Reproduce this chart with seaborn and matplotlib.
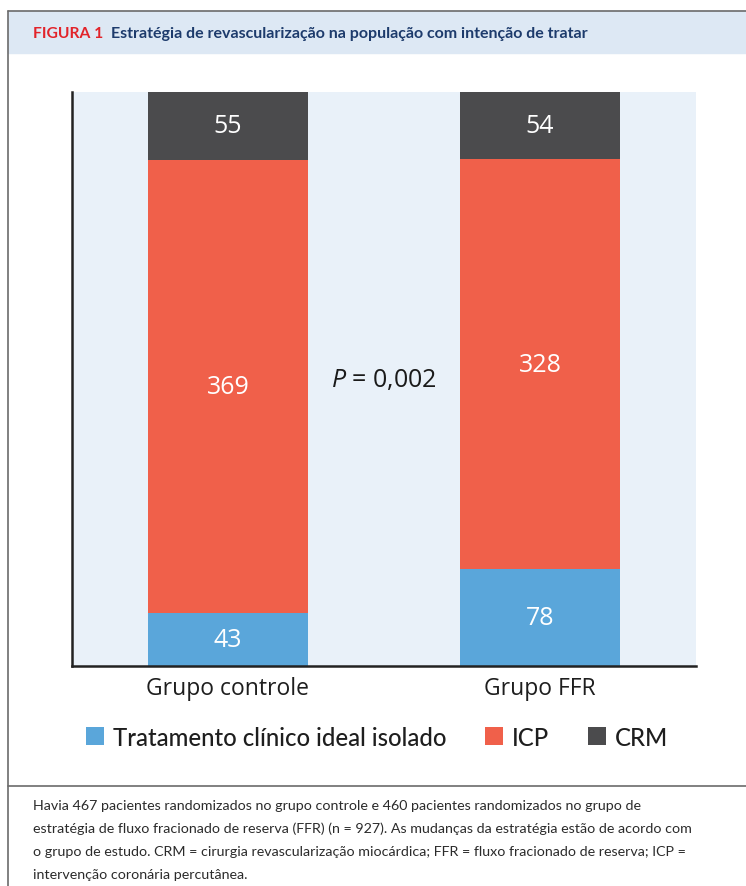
import matplotlib
matplotlib.use("Agg")
import matplotlib.pyplot as plt
import seaborn as sns
import pandas as pd
from matplotlib import font_manager
from matplotlib.patches import Patch, Rectangle
from matplotlib.lines import Line2D

# data
groups = ["Grupo controle", "Grupo FFR"]
clinico = [43, 78]
icp = [369, 328]
crm = [55, 54]
legend_labels = ["Tratamento clínico ideal isolado", "ICP", "CRM"]
p_label = "$P$ = 0,002"

header_tag = "FIGURA 1"
header_title = "Estratégia de revascularização na população com intenção de tratar"
caption_lines = [
    "Havia 467 pacientes randomizados no grupo controle e 460 pacientes randomizados no grupo de",
    "estratégia de fluxo fracionado de reserva (FFR) (n = 927). As mudanças da estratégia estão de acordo com",
    "o grupo de estudo. CRM = cirurgia revascularização miocárdica; FFR = fluxo fracionado de reserva; ICP =",
    "intervenção coronária percutânea.",
]

col_blue = "#5AA6DA"
col_red = "#F0604A"
col_dark = "#4B4B4D"
axes_bg = "#E9F1F9"
band_bg = "#DDE8F4"
frame_col = "#6B6B6B"

sns.set_theme(style="white")
names = {f.name for f in font_manager.fontManager.ttflist}
narrow = "Liberation Sans Narrow" if "Liberation Sans Narrow" in names else "Lato"
plt.rcParams["font.family"] = ["Open Sans", "DejaVu Sans"]
plt.rcParams["mathtext.fontset"] = "custom"
plt.rcParams["mathtext.rm"] = "Open Sans"
plt.rcParams["mathtext.it"] = "Open Sans:italic"

W, H = 746, 887
fig = plt.figure(figsize=(W / 100, H / 100), dpi=100)


def fx(px):
    return px / W


def fy(py):
    return 1 - py / H


# frame and header band
fig.patches.append(Rectangle((fx(8), fy(54)), 1 - fx(8), (54 - 12) / H,
                             transform=fig.transFigure, color=band_bg, zorder=0))
fig.lines.append(Line2D([fx(8), 1], [fy(12), fy(12)], transform=fig.transFigure,
                        color=frame_col, lw=1.2))
fig.lines.append(Line2D([fx(8), fx(8)], [fy(12), 0], transform=fig.transFigure,
                        color=frame_col, lw=1.2))
fig.lines.append(Line2D([fx(8), 1], [fy(787), fy(787)], transform=fig.transFigure,
                        color=frame_col, lw=1.2))

renderer = fig.canvas.get_renderer()


def fit_text(x, y, s, width_px, size, **kw):
    t = fig.text(x, y, s, fontsize=size, **kw)
    w = t.get_window_extent(renderer=renderer).width
    t.set_fontsize(size * width_px / w)
    return t


fit_text(fx(33), fy(34), header_tag, 70, 11, family=narrow, weight="bold",
         color="#E2232A", va="center", ha="left")
fit_text(fx(111), fy(34), header_title, 479, 11, family=narrow, weight="bold",
         color="#1D3B6C", va="center", ha="left")

for i, line in enumerate(caption_lines):
    fig.text(fx(33), fy(806 + i * 23), line, fontsize=10.25, family=narrow,
             color="#2b2b2b", va="center", ha="left")

# chart
ax = fig.add_axes([fx(72), fy(667), fx(696) - fx(72), (667 - 93) / H])
ax.set_facecolor(axes_bg)

totals = [a + b + c for a, b, c in zip(clinico, icp, crm)]
df = pd.DataFrame({
    "grupo": groups,
    "clinico": [v / t * 100 for v, t in zip(clinico, totals)],
    "icp": [v / t * 100 for v, t in zip(icp, totals)],
    "crm": [v / t * 100 for v, t in zip(crm, totals)],
})
df["top_icp"] = df["clinico"] + df["icp"]
df["top_crm"] = df["top_icp"] + df["crm"]

sns.barplot(data=df, x="grupo", y="top_crm", color=col_dark, saturation=1,
            width=0.51, linewidth=0, ax=ax)
sns.barplot(data=df, x="grupo", y="top_icp", color=col_red, saturation=1,
            width=0.51, linewidth=0, ax=ax)
sns.barplot(data=df, x="grupo", y="clinico", color=col_blue, saturation=1,
            width=0.51, linewidth=0, ax=ax)

lab = dict(color="white", fontsize=18, ha="center", va="center")
for i, row in df.iterrows():
    ax.text(i, row["clinico"] / 2, str(clinico[i]), **lab)
    ax.text(i, row["clinico"] + row["icp"] / 2, str(icp[i]), **lab)
    ax.text(i, row["top_icp"] + row["crm"] / 2, str(crm[i]), **lab)

ax.text(0.5, 100 * (667 - 381) / 574, p_label, fontsize=18,
        ha="center", va="center", color="#1a1a1a")

ax.set_xlim(-0.5, 1.5)
ax.set_ylim(0, 100)
ax.set_yticks([])
ax.set_xlabel("")
ax.set_ylabel("")
ax.tick_params(axis="x", length=0, pad=7, labelsize=16.5, labelcolor="#1e1e1e")
for s in ["top", "right"]:
    ax.spines[s].set_visible(False)
for s in ["left", "bottom"]:
    ax.spines[s].set_color("#222222")
    ax.spines[s].set_linewidth(1.8)

handles = [Patch(facecolor=c, edgecolor="none") for c in [col_blue, col_red, col_dark]]
leg = fig.legend(handles, legend_labels, loc="center", bbox_to_anchor=(fx(377), fy(738)),
                 ncol=3, frameon=False, handlelength=0.75, handleheight=0.75,
                 handletextpad=0.4, columnspacing=1.6,
                 prop={"family": narrow, "size": 17.2, "weight": "medium"})
for t in leg.get_texts():
    t.set_color("#1e1e1e")

fig.savefig("out.png", dpi=100)
